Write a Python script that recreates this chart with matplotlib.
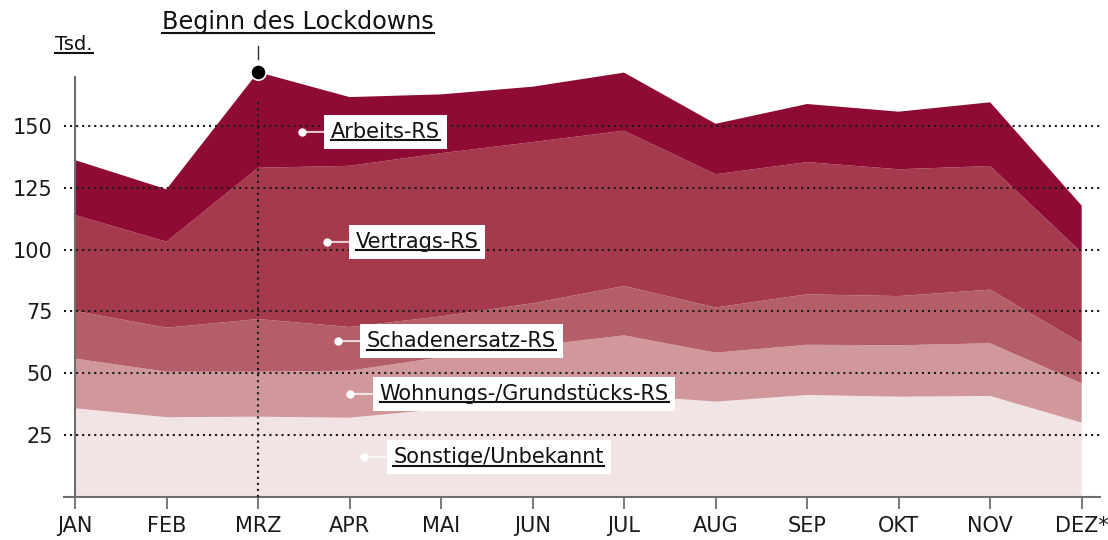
import matplotlib
matplotlib.use("Agg")
import numpy as np
import matplotlib.pyplot as plt
from matplotlib.lines import Line2D
from matplotlib.text import Text

plt.rcParams['font.family'] = ['DejaVu Sans']

months = ["JAN", "FEB", "MRZ", "APR", "MAI", "JUN", "JUL", "AUG", "SEP", "OKT", "NOV", "DEZ*"]

# Werte in Tsd. (von unten nach oben gestapelt)
sonstige = [35.8, 32.2, 32.4, 32.0, 35.5, 38.5, 41.2, 38.5, 41.2, 40.5, 40.8, 30.0]
wohnungs = [20.1, 18.4, 18.2, 19.0, 21.0, 22.5, 24.1, 19.8, 20.3, 20.8, 21.3, 15.9]
schaden = [19.3, 17.8, 21.3, 17.7, 16.5, 17.3, 20.0, 18.3, 20.4, 19.9, 21.7, 16.2]
vertrags = [38.8, 34.8, 61.2, 65.2, 66.0, 65.2, 62.8, 53.9, 53.5, 51.3, 50.0, 36.7]
arbeits = [22.2, 21.2, 38.7, 27.8, 23.8, 22.4, 23.5, 20.4, 23.5, 23.3, 25.8, 19.0]

series_names = ["Sonstige/Unbekannt", "Wohnungs-/Grundstücks-RS", "Schadenersatz-RS",
                "Vertrags-RS", "Arbeits-RS"]
colors = ["#f2e3e5", "#d0989b", "#b45f67", "#a43a4c", "#8e0c33"]

yticks = [25, 50, 75, 100, 125, 150]
lockdown_idx = 2

fig = plt.figure(figsize=(11.08, 5.40), dpi=100)
ax = fig.add_axes([64 / 1108, (540 - 496.8) / 540, 1036 / 1108, 432.6 / 540])

x = np.arange(len(months))
layers = [sonstige, wohnungs, schaden, vertrags, arbeits]
ax.stackplot(x, *layers, colors=colors, linewidth=0, zorder=1)

ax.set_xlim(-0.12, 11.2)
ax.set_ylim(0, 175)

# dotted grid lines over the areas
for yv in yticks:
    ax.axhline(yv, color="#1a1a1a", lw=1.5, ls=(0, (1, 1.9)), zorder=3)

# axes
for s in ["top", "right", "left"]:
    ax.spines[s].set_visible(False)
ax.spines["bottom"].set_color("#6e6e6e")
ax.spines["bottom"].set_linewidth(1.5)
ax.plot([0, 0], [0, 170], color="#6e6e6e", lw=1.5, clip_on=False, zorder=4)

ax.set_xticks(x)
ax.set_xticklabels(months, fontsize=15, color="#1a1a1a")
ax.tick_params(axis="x", length=8.5, width=1.3, color="#6e6e6e", pad=5)
ax.set_yticks(yticks)
ax.set_yticklabels([str(v) for v in yticks], fontsize=15, color="#1a1a1a")
ax.tick_params(axis="y", length=0, pad=8)

# Lockdown marker
total = np.sum(layers, axis=0)
ax.plot([lockdown_idx, lockdown_idx], [0, 160], color="#1a1a1a", lw=1.5,
        ls=(0, (1, 1.9)), zorder=3)
ax.plot(lockdown_idx, total[lockdown_idx], "o", ms=11, mfc="black", mec="white",
        mew=1.2, clip_on=False, zorder=6)
ax.plot([lockdown_idx, lockdown_idx], [177.3, 182.2], color="#333333", lw=1,
        clip_on=False, zorder=6)

underlined = []
t = fig.text(162 / 1108, 1 - 29 / 540, "Beginn des Lockdowns", fontsize=17.2,
             ha="left", va="baseline", color="#111111")
underlined.append(t)
t = fig.text(55 / 1108, 1 - 50 / 540, "Tsd.", fontsize=14, ha="left",
             va="baseline", color="#111111")
underlined.append(t)

# series labels with white boxes
label_pos = [(3.16, 16.1), (3.01, 41.6), (2.87, 63.0), (2.75, 103.1), (2.477, 147.6)]
for name, (lx, ly) in zip(series_names, label_pos):
    a = ax.annotate(name, xy=(lx, ly), xytext=(21, 0), textcoords="offset points",
                    fontsize=15, color="#111111", ha="left", va="center",
                    bbox=dict(boxstyle="square,pad=0.32", fc="white", ec="none"),
                    arrowprops=dict(arrowstyle="-", color=(1, 1, 1, 0.75), lw=1.5,
                                    shrinkA=0, shrinkB=0, relpos=(0, 0.5)),
                    zorder=5)
    ax.plot(lx, ly, "o", ms=5, color="white", zorder=6)
    underlined.append(a)

fig.canvas.draw()
renderer = fig.canvas.get_renderer()
for t in underlined:
    bb = Text.get_window_extent(t, renderer)
    yline = bb.y0 + 1.5
    fig.add_artist(Line2D([bb.x0 / 1108, bb.x1 / 1108], [yline / 540, yline / 540],
                          color="#111111", lw=1.5, zorder=10))

fig.savefig("out.png", dpi=100)
